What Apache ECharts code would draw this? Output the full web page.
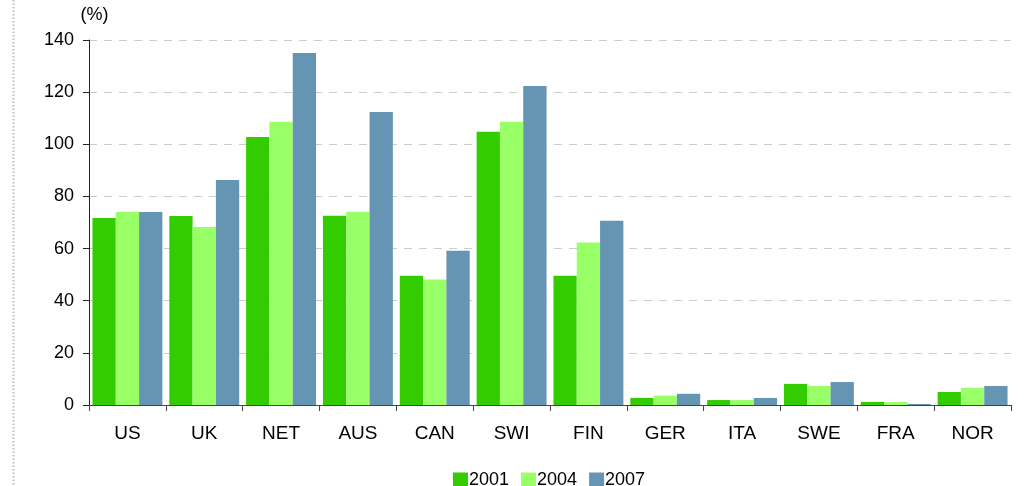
<!DOCTYPE html>
<html>
<head>
<meta charset="utf-8">
<script src="https://cdn.jsdelivr.net/npm/echarts@6/dist/echarts.min.js"></script>
<style>
  html, body { margin: 0; padding: 0; background: #ffffff; }
  #chart { width: 1028px; height: 486px; }
</style>
</head>
<body>
<div id="chart"></div>
<script>
// Countries along the category axis
const countries = ['US', 'UK', 'NET', 'AUS', 'CAN', 'SWI', 'FIN', 'GER', 'ITA', 'SWE', 'FRA', 'NOR'];

// Values in percent for each survey year
const years = ['2001', '2004', '2007'];
const values2001 = [71.7, 72.5, 102.8, 72.6, 49.6, 104.8, 49.6, 2.7, 1.9, 8.1, 1.2, 5.0];
const values2004 = [74.0, 68.3, 108.6, 74.1, 48.1, 108.6, 62.3, 3.6, 1.9, 7.3, 1.1, 6.5];
const values2007 = [74.0, 86.3, 135.0, 112.4, 59.2, 122.4, 70.7, 4.3, 2.7, 8.8, 0.4, 7.3];

const yTicks = { min: 0, max: 140, interval: 20 };

const colors = ['#33cc00', '#99ff66', '#6694b3'];
const fontFamily = '"Liberation Sans", Arial, sans-serif';

const chart = echarts.init(document.getElementById('chart'), null, { renderer: 'canvas' });

const seriesData = [values2001, values2004, values2007];

chart.setOption({
  animation: false,
  backgroundColor: '#ffffff',
  color: colors,
  grid: { left: 89, right: 17, top: 40, bottom: 81, containLabel: false },
  legend: {
    data: years,
    left: 448,
    top: 466,
    itemWidth: 15,
    itemHeight: 15,
    itemGap: 12,
    icon: 'rect',
    textStyle: { fontFamily, fontSize: 18, color: '#000', padding: [0, 0, 0, -4] }
  },
  xAxis: {
    type: 'category',
    data: countries,
    axisLine: { show: true, lineStyle: { color: '#444', width: 1 } },
    axisTick: { show: true, length: 6, alignWithLabel: false, lineStyle: { color: '#444' } },
    axisLabel: { fontFamily, fontSize: 19, color: '#000', margin: 19 },
    splitLine: { show: false }
  },
  yAxis: {
    type: 'value',
    min: yTicks.min,
    max: yTicks.max,
    interval: yTicks.interval,
    name: '(%)',
    nameLocation: 'end',
    nameGap: 16,
    nameTextStyle: { fontFamily, fontSize: 18, color: '#000', padding: [0, 0, 0, 11] },
    axisLine: { show: true, lineStyle: { color: '#222', width: 1 } },
    axisTick: { show: true, length: 6, lineStyle: { color: '#222' } },
    axisLabel: { fontFamily, fontSize: 18, color: '#000', margin: 15 },
    splitLine: { show: true, lineStyle: { color: '#cccccc', type: [8, 7], width: 1 } }
  },
  series: years.map((y, i) => ({
    name: y,
    type: 'bar',
    data: seriesData[i],
    barGap: '0%',
    barCategoryGap: '9%',
    itemStyle: { color: colors[i] }
  })),
  graphic: [
    {
      type: 'line',
      shape: { x1: 13.5, y1: 0, x2: 13.5, y2: 486 },
      style: { stroke: '#bbbbbb', lineWidth: 2, lineDash: [1.5, 2] },
      silent: true
    }
  ]
});
</script>
</body>
</html>
